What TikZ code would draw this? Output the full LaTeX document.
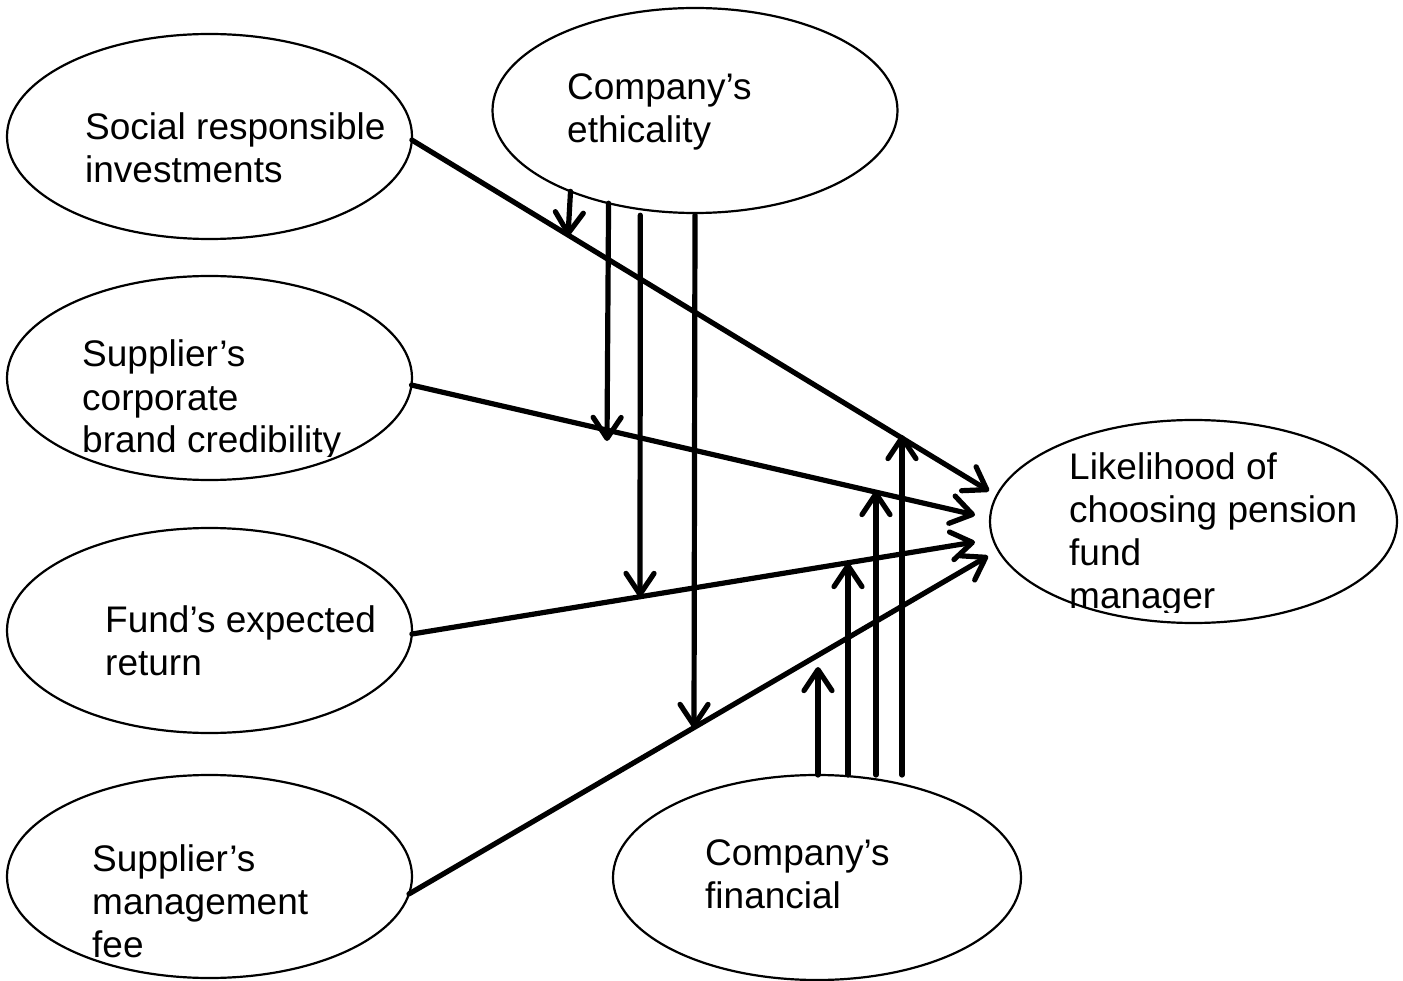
\documentclass[tikz,border=0pt]{standalone}
\usepackage{fontspec}
\setmainfont{Liberation Sans}
\usetikzlibrary{shapes.geometric,arrows.meta}
\begin{document}
\begin{tikzpicture}[x=1pt,y=-1pt,
  ell/.style={ellipse,draw,line width=2.2pt,inner sep=0pt,outer sep=0pt,
              minimum width=405pt,minimum height=205pt},
  lbl/.style={anchor=base west,align=left,inner sep=0pt,
              font=\fontsize{37pt}{43pt}\selectfont},
  link/.style={line width=5.2pt,line cap=round,
               -{Straight Barb[length=21pt,width=28pt,round]}}]
\useasboundingbox (0,0) rectangle (1403,981);

% constructs
\node[ell] (sri)  at (209.5,136.5) {};
\node[ell] (eth)  at (695,110.5) {};
\node[ell] (corp) at (209.5,378) [minimum height=204pt] {};
\node[ell] (fund) at (209.5,630.5) {};
\node[ell] (fee)  at (209.5,876.5) [minimum height=203pt] {};
\node[ell] (fin)  at (817,877.5) [minimum width=408pt] {};
\node[ell] (lik)  at (1193.5,521.5) [minimum width=407pt,minimum height=203pt] {};

% labels, placed by the baseline of their last line
% (text boxes cut off at their lower edge where needed)
\node[lbl] (sri-t)  at (85,183)  {Social responsible\\investments};
\node[lbl] (eth-t)  at (567,143) {Company’s\\ethicality};
\begin{scope}
  \clip (0,0) rectangle (1403,456);
  \node[lbl] (corp-t) at (82,453) {Supplier’s\\corporate\\brand credibility};
\end{scope}
\node[lbl] (fund-t) at (105,675) {Fund’s expected\\return};
\node[lbl] (fee-t)  at (92,957)  {Supplier’s\\management\\fee};
\node[lbl] (fin-t)  at (705,908) {Company’s\\financial};
\begin{scope}
  \clip (0,0) rectangle (1403,612);
  \node[lbl] (lik-t) at (1069,608) {Likelihood of\\choosing pension\\fund\\manager};
\end{scope}

% arrow tips of the direct effects
\coordinate (tA) at (989,491);
\coordinate (tB) at (975,515);
\coordinate (tC) at (975,542);
\coordinate (tD) at (988,556);

% direct effects
\draw[link] (sri.-1.55)  -- (tA);
\draw[link] (corp.-2.25) -- (tB);
\draw[link] (fund.-1.83) -- (tC);
\draw[link] (fee.-5.2)   -- (tD);

% moderation by ethicality
\coordinate (m1) at (568,236);
\coordinate (m2) at (607,441);
\coordinate (m3) at (640,597);
\coordinate (m4) at (694,728);
\draw[link] (eth.-147.8) -- (m1);
\draw[link] (eth.-133.6) -- (m2);
\draw[link,shorten <=6pt] (eth.-119.2) -- (m3);
\draw[link,shorten <=2pt] (eth.-90.6) -- (m4);

% moderation by financial performance
\coordinate (u1) at (818,667);
\coordinate (u2) at (848,563);
\coordinate (u3) at (876,491);
\coordinate (u4) at (902,435);
\foreach \u in {u1,u2,u3,u4}
  \draw[link] (\u |- fin.north) -- (\u);
\end{tikzpicture}
\end{document}
